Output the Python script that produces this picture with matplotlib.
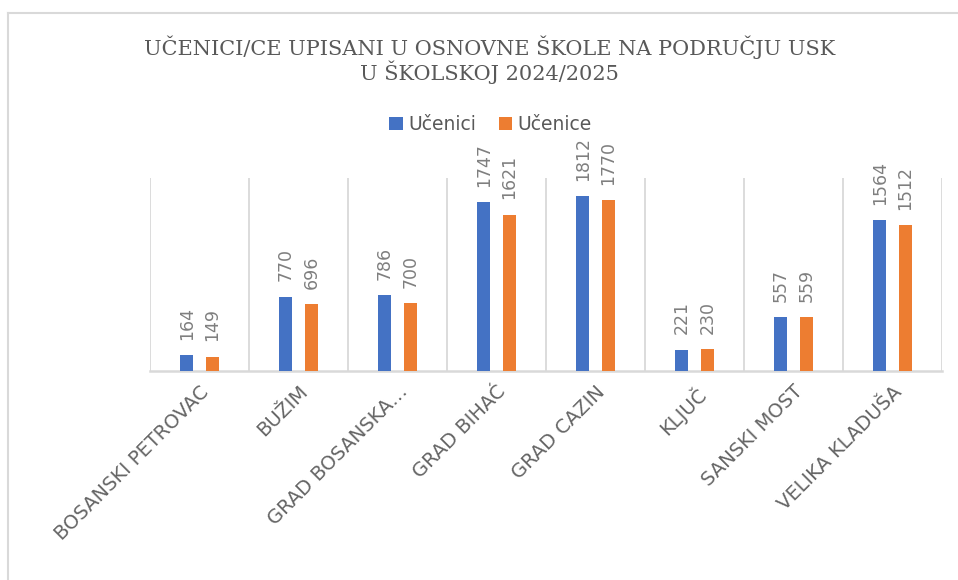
import numpy as np
import matplotlib.pyplot as plt
from matplotlib.lines import Line2D

categories = ["BOSANSKI PETROVAC", "BUŽIM", "GRAD BOSANSKA…", "GRAD BIHAĆ",
              "GRAD CAZIN", "KLJUČ", "SANSKI MOST", "VELIKA KLADUŠA"]
ucenici = [164, 770, 786, 1747, 1812, 221, 557, 1564]
ucenice = [149, 696, 700, 1621, 1770, 230, 559, 1512]

BLUE = "#4472C4"
ORANGE = "#ED7D31"
GRID = "#D9D9D9"
TXT = "#595959"

fig = plt.figure(figsize=(9.58, 5.8), dpi=100)
ax = fig.add_axes([150 / 958, 1 - 371 / 580, 792 / 958, 193 / 580])

x = np.arange(len(categories))
w = 0.13
b1 = ax.bar(x - 0.13, ucenici, w, color=BLUE, label="Učenici", zorder=3)
b2 = ax.bar(x + 0.13, ucenice, w, color=ORANGE, label="Učenice", zorder=3)

# data labels, rotated like Excel
for bars in (b1, b2):
    for r in bars:
        ax.annotate(str(int(r.get_height())),
                    (r.get_x() + r.get_width() / 2, r.get_height()),
                    xytext=(0, 11), textcoords="offset points",
                    rotation=90, ha="center", va="bottom",
                    fontsize=12.5, color="#7F7F7F")

ax.set_xlim(-0.5, len(categories) - 0.5)
ax.set_ylim(0, 2000)
for b in np.arange(-0.5, len(categories), 1.0):
    ax.axvline(b, color=GRID, lw=1.3, zorder=1)

for s in ("top", "right", "left"):
    ax.spines[s].set_visible(False)
ax.spines["bottom"].set_color(GRID)
ax.spines["bottom"].set_linewidth(1.8)
ax.set_yticks([])
ax.set_xticks(x)
ax.set_xticklabels(categories, rotation=45, ha="right", va="top",
                   rotation_mode="anchor", fontsize=14, color="#656565")
ax.tick_params(axis="x", length=0, pad=8)

fig.text(0.511, 1 - 47 / 580, "UČENICI/CE UPISANI U OSNOVNE ŠKOLE NA PODRUČJU USK",
         ha="center", va="center", family="DejaVu Serif", fontsize=15, color=TXT)
fig.text(0.511, 1 - 72 / 580, "U ŠKOLSKOJ 2024/2025",
         ha="center", va="center", family="DejaVu Serif", fontsize=15, color=TXT)

fig.legend(handles=[b1, b2], loc="center", bbox_to_anchor=(0.512, 1 - 125 / 580),
           ncol=2, frameon=False, fontsize=13.5, handlelength=0.7, handleheight=0.7,
           handletextpad=0.3, columnspacing=1.2, labelcolor=TXT)

# outer chart frame (top and left visible in the crop)
fig.add_artist(Line2D([8 / 958, 8 / 958], [0, 1 - 13 / 580], transform=fig.transFigure,
                      color=GRID, lw=1.5))
fig.add_artist(Line2D([8 / 958, 1], [1 - 13 / 580, 1 - 13 / 580], transform=fig.transFigure,
                      color=GRID, lw=1.5))

fig.savefig("out.png", dpi=100)
